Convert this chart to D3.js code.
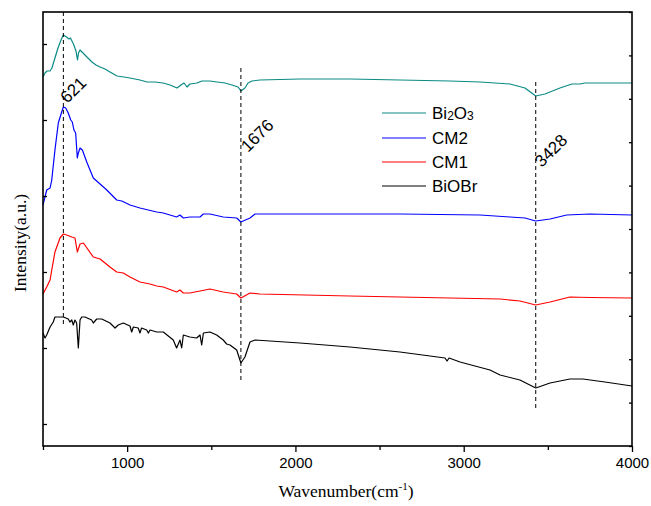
<!DOCTYPE html>
<html>
<head>
<meta charset="utf-8">
<script src="https://cdn.jsdelivr.net/npm/d3@7/dist/d3.min.js"></script>
<style>
  html, body { margin: 0; padding: 0; background: #fff; }
  svg { display: block; }
</style>
</head>
<body>
<svg id="chart" width="651" height="506"></svg>
<script>
// FTIR spectra, vertically offset (arbitrary intensity units)
const bi2o3Wn = [500,512,524,542,553,571,589,607,621,640,654,663,672,681,696,705,711,720,738,761,791,815,839,868,898,940,981,1017,1076,1118,1166,1213,1255,1296,1320,1338,1356,1373,1415,1445,1492,1534,1581,1623,1659,1676,1700,1718,1742,1789,1908,2027,2324,2621,2918,3097,3275,3364,3428,3483,3572,3643,3691,3720,3810,4000];
const bi2o3Val = [369,373,375,375,378,388,398,406,411,409,407,408,405,402,395,386,393,396,393,389,384,381,379,377,374,370,369,368,366,364,364,363,361,358,361,363,359,362,363,365,365,364,363,361,359,355,358,363,365,366,366.5,367,367,366,365,364,362,358,350,352,358,362,362,363,363,363];

const cm2Wn = [500,522,542,552,571,591,611,621,635,650,665,674,684,694,704,710,720,734,760,799,819,879,938,968,1017,1076,1176,1215,1294,1314,1334,1373,1433,1453,1492,1571,1651,1676,1730,1760,2027,2621,3097,3275,3364,3428,3513,3612,3750,4000];
const cm2Val = [241,256,258,266,296,323,334,339,338,333,326,324,316,313,288,293,298,296,284,268,265,256,246,245,241,238,234,233,229,231,228,229,229,232,232,229,228,224,228,232,232,232,231,229,228,225,227,231,232,231];

const cm1Wn = [500,522,542,552,571,601,621,641,671,690,704,720,740,799,839,898,938,977,1017,1076,1136,1176,1215,1294,1314,1334,1373,1433,1492,1571,1651,1676,1730,1789,2324,2918,3216,3334,3428,3513,3631,3750,4000];
const cm1Val = [152,159,166,176,194,208,212,211,209,208,194,202,203,189,187,179,174,173,169,164,162,160,159,154,156,153,153,155,157,154,152,148,153,152,150,148,147,145,141,144,149,148.5,148];

const biobrWn = [500,512,522,542,561,571,591,621,650,660,671,680,690,700,710,720,730,750,789,799,819,849,898,928,947,977,1017,1027,1037,1066,1076,1086,1116,1126,1136,1176,1215,1274,1294,1314,1324,1334,1373,1413,1433,1443,1453,1492,1532,1571,1591,1611,1651,1676,1700,1730,1760,2027,2324,2621,2800,2889,2901,2913,2978,3156,3216,3334,3428,3513,3631,3708,3839,4000];
const biobrVal = [113,108,111,119,124,129,129,129,127,124,126,121,126,123,98,126,129,129,126,123,127,127,123,118,121,123,120,114,119,118,113,118,116,113,116,114,114,106,98,106,98,111,109,108,111,101,113,114,111,106,102,101,96,83,89,104,106,103,99,94,90,88,85,88,84,76,71,66,58,63,67,67,64,60];

const seriesNames = ["Bi2O3", "CM2", "CM1", "BiOBr"];
const seriesColors = ["#0a8a84", "#0000ff", "#ff0000", "#000000"];

// marked absorption bands (cm-1)
const bandLabels = [621, 1676, 3428];

const xMajorTicks = [1000, 2000, 3000, 4000];
const xMinorTicks = [500, 1500, 2500, 3500];
const yLeftTicks = [22, 98, 174, 250, 326, 402];
const yRightTicks = d3.range(0, 11).map(i => i * 43.4);

const margin = { left: 43, right: 19, top: 12, bottom: 60 };
const W = 651, H = 506;
const svg = d3.select("#chart");

const x = d3.scaleLinear().domain([500, 4000]).range([margin.left, W - margin.right]);
const y = d3.scaleLinear().domain([0, 434]).range([H - margin.bottom, margin.top]);

const series = [
  { wn: bi2o3Wn, val: bi2o3Val },
  { wn: cm2Wn, val: cm2Val },
  { wn: cm1Wn, val: cm1Val },
  { wn: biobrWn, val: biobrVal }
];

const line = d3.line().x(d => x(d[0])).y(d => y(d[1]));

// spectra
series.forEach((s, i) => {
  const pts = s.wn.map((w, k) => [w, s.val[k]]);
  svg.append("path")
    .attr("d", line(pts))
    .attr("fill", "none")
    .attr("stroke", seriesColors[i])
    .attr("stroke-width", 1.2)
    .attr("stroke-linejoin", "round");
});

// dashed band markers: [wavenumber, top value, bottom value]
const bandExtents = [[621, 434, 119], [1676, 378, 64], [3428, 364, 38]];
bandExtents.forEach(b => {
  svg.append("line")
    .attr("x1", x(b[0])).attr("x2", x(b[0]))
    .attr("y1", y(b[1])).attr("y2", y(b[2]))
    .attr("stroke", "#000")
    .attr("stroke-width", 1)
    .attr("stroke-dasharray", "4,3");
});

// rotated band labels, anchored just right of each marker: [wavenumber, value, x offset]
const labelPos = [[621, 342, 4], [1676, 293, 7], [3428, 278, 6]];
labelPos.forEach((p, i) => {
  const px = x(p[0]) + p[2], py = y(p[1]);
  svg.append("text")
    .attr("transform", `translate(${px},${py}) rotate(-45)`)
    .attr("font-family", "Liberation Sans, Arial, sans-serif")
    .attr("font-size", 17)
    .attr("fill", "#000")
    .text(bandLabels[i]);
});

// frame
const x0 = x.range()[0], x1 = x.range()[1];
const yb = y.range()[0], yt = y.range()[1];
svg.append("rect")
  .attr("x", x0).attr("y", yt)
  .attr("width", x1 - x0).attr("height", yb - yt)
  .attr("fill", "none").attr("stroke", "#000").attr("stroke-width", 1.6);

// bottom axis
const xAxis = d3.axisBottom(x).tickValues(xMajorTicks).tickSize(6).tickPadding(5)
  .tickFormat(d3.format("d"));
const gx = svg.append("g").attr("transform", `translate(0,${yb})`).call(xAxis);
gx.select(".domain").remove();
gx.selectAll(".tick line").attr("stroke-width", 1.3);
gx.selectAll(".tick text")
  .attr("font-family", "Liberation Sans, Arial, sans-serif")
  .attr("font-size", 15).attr("fill", "#000");

const xMinor = d3.axisBottom(x).tickValues(xMinorTicks).tickSize(4).tickFormat("");
const gxm = svg.append("g").attr("transform", `translate(0,${yb})`).call(xMinor);
gxm.select(".domain").remove();
gxm.selectAll(".tick line").attr("stroke-width", 1.3);

// left axis (inward ticks)
const yAxisL = d3.axisRight(y).tickValues(yLeftTicks).tickSize(4).tickFormat("");
const gyl = svg.append("g").attr("transform", `translate(${x0},0)`).call(yAxisL);
gyl.select(".domain").remove();
gyl.selectAll(".tick line").attr("stroke-width", 1.3);

// right axis (inward ticks)
const yAxisR = d3.axisLeft(y).tickValues(yRightTicks).tickSize(3).tickFormat("");
const gyr = svg.append("g").attr("transform", `translate(${x1},0)`).call(yAxisR);
gyr.select(".domain").remove();
gyr.selectAll(".tick line").attr("stroke-width", 1.3);

// axis titles
const xt = svg.append("text")
  .attr("x", 346).attr("y", 497)
  .attr("text-anchor", "middle")
  .attr("font-family", "Liberation Serif, Times New Roman, serif")
  .attr("font-size", 17.5).attr("fill", "#000");
xt.append("tspan").text("Wavenumber(cm");
xt.append("tspan").attr("font-size", 11).attr("dy", -7).text("-1");
xt.append("tspan").attr("dy", 7).text(")");

svg.append("text")
  .attr("transform", "translate(26,243) rotate(-90)")
  .attr("text-anchor", "middle")
  .attr("font-family", "Liberation Serif, Times New Roman, serif")
  .attr("font-size", 17.5).attr("fill", "#000")
  .text("Intensity(a.u.)");

// legend
const legendY = [113, 138, 162, 186];
seriesNames.forEach((name, i) => {
  const ly = legendY[i];
  svg.append("line")
    .attr("x1", 382).attr("x2", 426).attr("y1", ly).attr("y2", ly)
    .attr("stroke", seriesColors[i]).attr("stroke-width", 1.2);
  const t = svg.append("text")
    .attr("x", 432).attr("y", ly + 6)
    .attr("font-family", "Liberation Sans, Arial, sans-serif")
    .attr("font-size", 17).attr("fill", "#000");
  if (name === "Bi2O3") {
    t.append("tspan").text("Bi");
    t.append("tspan").attr("font-size", 12).attr("dy", 1).text("2");
    t.append("tspan").attr("dy", -1).text("O");
    t.append("tspan").attr("font-size", 12).attr("dy", 1).text("3");
  } else {
    t.text(name);
  }
});
</script>
</body>
</html>
